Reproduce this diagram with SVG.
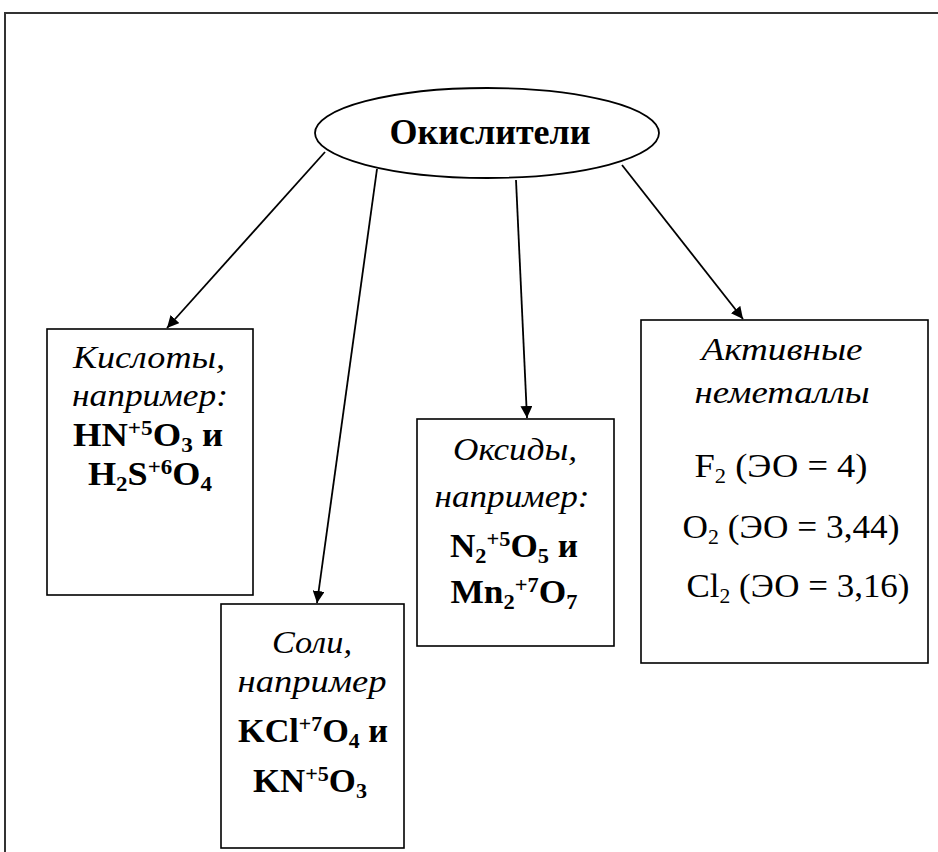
<svg xmlns="http://www.w3.org/2000/svg" width="938" height="852" viewBox="0 0 938 852">
<defs>
<style>
.frame{fill:none;stroke:#333;stroke-width:2}
.box{fill:#fff;stroke:#000;stroke-width:1.6}
.conn{fill:none;stroke:#000;stroke-width:1.8}
.t{font-family:"Liberation Serif","Times New Roman",serif;fill:#000;text-anchor:middle}
.it{font-style:italic;font-size:32px}
.bf{font-weight:bold;font-size:33px}
.rf{font-size:34px}
.title{font-weight:bold;font-size:36px}
.s{font-size:21px}
</style>
<marker id="ahb" viewBox="0 0 10 10" refX="10" refY="5" markerWidth="12" markerHeight="12" markerUnits="userSpaceOnUse" orient="auto">
<path d="M0,0 L10,5 L0,10 z" fill="#000"/>
</marker>
</defs>
<rect width="938" height="852" fill="#fff"/>
<path class="frame" d="M5,852 V13 H938"/>

<g id="connectors">
<line class="conn" x1="325" y1="152" x2="167" y2="328" marker-end="url(#ahb)"/>
<line class="conn" x1="377" y1="169" x2="317" y2="603" marker-end="url(#ahb)"/>
<line class="conn" x1="516" y1="180" x2="527" y2="418" marker-end="url(#ahb)"/>
<line class="conn" x1="622" y1="165" x2="743" y2="319" marker-end="url(#ahb)"/>
</g>

<g id="oxidizers">
<ellipse cx="487" cy="133" rx="172" ry="45" fill="#fff" stroke="#000" stroke-width="1.8"/>
<text class="t title" x="490" y="144">Окислители</text>
</g>

<g id="acids">
<rect class="box" x="47" y="329" width="206" height="266"/>
<text class="t it" x="149" y="368" textLength="152" lengthAdjust="spacingAndGlyphs">Кислоты,</text>
<text class="t it" x="150" y="406" textLength="156" lengthAdjust="spacingAndGlyphs">например:</text>
<text class="t bf" x="148" y="446" textLength="150" lengthAdjust="spacingAndGlyphs">HN<tspan class="s" dy="-11">+5</tspan><tspan dy="11">O</tspan><tspan class="s" dy="6">3</tspan><tspan dy="-6"> и</tspan></text>
<text class="t bf" x="150" y="485" textLength="124" lengthAdjust="spacingAndGlyphs">H<tspan class="s" dy="6">2</tspan><tspan dy="-6">S</tspan><tspan class="s" dy="-11">+6</tspan><tspan dy="11">O</tspan><tspan class="s" dy="6">4</tspan></text>
</g>

<g id="salts">
<rect class="box" x="221" y="604" width="183" height="244"/>
<text class="t it" x="312" y="653" textLength="80" lengthAdjust="spacingAndGlyphs">Соли,</text>
<text class="t it" x="312" y="692" textLength="149" lengthAdjust="spacingAndGlyphs">например</text>
<text class="t bf" x="313" y="742" textLength="150" lengthAdjust="spacingAndGlyphs">KCl<tspan class="s" dy="-11">+7</tspan><tspan dy="11">O</tspan><tspan class="s" dy="6">4</tspan><tspan dy="-6"> и</tspan></text>
<text class="t bf" x="310" y="792" textLength="114" lengthAdjust="spacingAndGlyphs">KN<tspan class="s" dy="-11">+5</tspan><tspan dy="11">O</tspan><tspan class="s" dy="6">3</tspan></text>
</g>

<g id="oxides">
<rect class="box" x="417" y="419" width="197" height="227"/>
<text class="t it" x="515" y="460" textLength="124" lengthAdjust="spacingAndGlyphs">Оксиды,</text>
<text class="t it" x="512" y="507" textLength="155" lengthAdjust="spacingAndGlyphs">например:</text>
<text class="t bf" x="514" y="557" textLength="128" lengthAdjust="spacingAndGlyphs">N<tspan class="s" dy="6">2</tspan><tspan class="s" dy="-17">+5</tspan><tspan dy="11">O</tspan><tspan class="s" dy="6">5</tspan><tspan dy="-6"> и</tspan></text>
<text class="t bf" x="514" y="603" textLength="127" lengthAdjust="spacingAndGlyphs">Mn<tspan class="s" dy="6">2</tspan><tspan class="s" dy="-17">+7</tspan><tspan dy="11">O</tspan><tspan class="s" dy="6">7</tspan></text>
</g>

<g id="nonmetals">
<rect class="box" x="641" y="320" width="287" height="343"/>
<text class="t it" x="782" y="360" textLength="161" lengthAdjust="spacingAndGlyphs">Активные</text>
<text class="t it" x="782" y="403" textLength="175" lengthAdjust="spacingAndGlyphs">неметаллы</text>
<text class="t rf" x="781" y="477" textLength="173" lengthAdjust="spacingAndGlyphs">F<tspan class="s" dy="6">2</tspan><tspan dy="-6"> (ЭО = 4)</tspan></text>
<text class="t rf" x="791" y="538" textLength="217" lengthAdjust="spacingAndGlyphs">O<tspan class="s" dy="6">2</tspan><tspan dy="-6"> (ЭО = 3,44)</tspan></text>
<text class="t rf" x="798" y="597" textLength="223" lengthAdjust="spacingAndGlyphs">Cl<tspan class="s" dy="6">2</tspan><tspan dy="-6"> (ЭО = 3,16)</tspan></text>
</g>
</svg>
